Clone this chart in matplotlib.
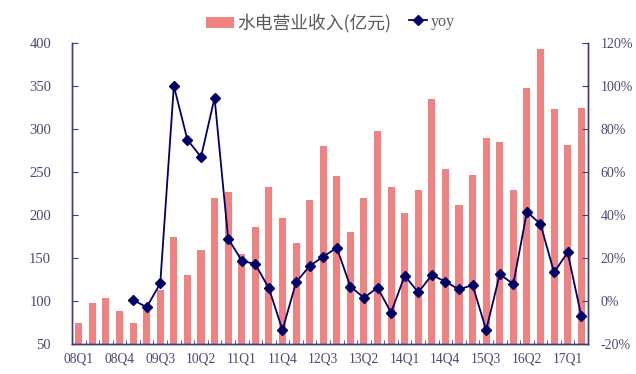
import numpy as np
import matplotlib
matplotlib.use("Agg")
import matplotlib.pyplot as plt
from matplotlib.ticker import FuncFormatter, FixedLocator

quarters = [
    "08Q1", "08Q2", "08Q3", "08Q4", "09Q1", "09Q2", "09Q3", "09Q4",
    "10Q1", "10Q2", "10Q3", "10Q4", "11Q1", "11Q2", "11Q3", "11Q4",
    "12Q1", "12Q2", "12Q3", "12Q4", "13Q1", "13Q2", "13Q3", "13Q4",
    "14Q1", "14Q2", "14Q3", "14Q4", "15Q1", "15Q2", "15Q3", "15Q4",
    "16Q1", "16Q2", "16Q3", "16Q4", "17Q1", "17Q2",
]
revenue = [
    74, 98, 104, 88, 75, 93, 113, 175, 130, 159, 220, 227, 155, 186,
    232, 196, 168, 217, 280, 245, 180, 220, 298, 232, 202, 229, 335,
    254, 212, 246, 289, 285, 229, 348, 393, 323, 281, 325,
]
yoy = [
    None, None, None, None, 0.5, -2.9, 8.2, 100.0, 75.0, 67.0, 94.5,
    29.0, 18.8, 17.1, 5.9, -13.5, 8.7, 16.3, 20.6, 24.8, 6.7, 1.5, 6.2,
    -5.4, 11.8, 4.0, 12.1, 9.0, 5.4, 7.4, -13.5, 12.4, 7.9, 41.5, 35.8,
    13.3, 22.6, -6.8,
]

bar_color = "#F08282"
line_color = "#000068"
axis_color = "#3c3c78"
label_color = "#4a4a78"

plt.rcParams["font.family"] = ["Liberation Serif", "Noto Sans CJK SC", "DejaVu Sans"]

fig = plt.figure(figsize=(6.36, 3.74), dpi=100)
ax = fig.add_axes([72 / 636, 1 - 344 / 374, 516 / 636, 301 / 374])
ax2 = ax.twinx()

x = np.arange(len(quarters))
bars = ax.bar(x, revenue, width=0.52, color=bar_color, zorder=1,
              label="水电营业收入(亿元)")
yoy_arr = np.array([np.nan if v is None else v for v in yoy], dtype=float)
line, = ax2.plot(x, yoy_arr, color=line_color, linewidth=1.3, marker="D",
                 markersize=5, label="yoy", zorder=3)

ax.set_xlim(-0.5, len(quarters) - 0.5)
ax.set_ylim(50, 400)
ax.set_yticks(np.arange(50, 401, 50))
ax2.set_ylim(-20, 120)
ax2.set_yticks(np.arange(-20, 121, 20))
ax2.yaxis.set_major_formatter(FuncFormatter(lambda v, p: f"{v:.0f}%"))

ax.set_xticks(x[::3])
ax.set_xticklabels(quarters[::3])
ax.xaxis.set_minor_locator(FixedLocator(np.arange(-0.5, len(quarters), 1.0)))

for a in (ax, ax2):
    a.spines["top"].set_visible(False)
    for s in ("left", "right", "bottom"):
        a.spines[s].set_color(axis_color)
        a.spines[s].set_linewidth(1.0)
    a.tick_params(colors=axis_color, labelcolor=label_color, direction="in")

ax.tick_params(axis="x", which="major", length=0, pad=6, labelsize=9.8)
ax.tick_params(axis="x", which="minor", length=3, direction="in", color=axis_color)
ax.tick_params(axis="y", length=4, labelsize=10.5, pad=15)
ax2.tick_params(axis="y", length=4, labelsize=10, pad=9)

# legend in two pieces so each handle keeps its own length
leg1 = fig.legend([bars], [bars.get_label()], loc="center left",
                  bbox_to_anchor=(206 / 636, 1 - 23 / 374), frameon=False,
                  borderpad=0, borderaxespad=0, handlelength=1.6,
                  handleheight=0.6, handletextpad=0.15,
                  prop={"family": ["Noto Sans CJK SC", "DejaVu Sans"], "size": 12.8})
leg2 = fig.legend([line], [line.get_label()], loc="center left",
                  bbox_to_anchor=(409 / 636, 1 - 22 / 374), frameon=False,
                  borderpad=0, borderaxespad=0, handlelength=1.1,
                  handletextpad=0.25,
                  prop={"family": ["Liberation Serif", "DejaVu Sans"], "size": 11.5})
for leg in (leg1, leg2):
    for t in leg.get_texts():
        t.set_color("#5a5a5a")

fig.savefig("out.png", dpi=100)
